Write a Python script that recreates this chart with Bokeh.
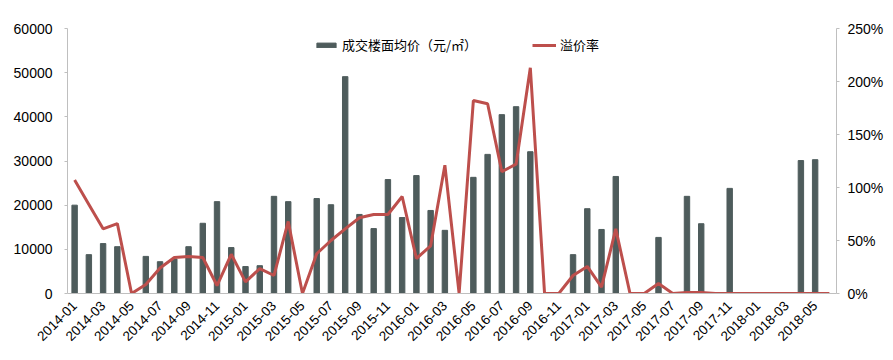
import math
from bokeh.plotting import figure
from bokeh.models import (ColumnDataSource, Range1d, LinearAxis, FixedTicker,
                          PrintfTickFormatter, Legend, LegendItem)
from bokeh.embed import file_html
from bokeh.resources import INLINE

months = [f"{y}-{m:02d}" for y in range(2014, 2019) for m in range(1, 13)][:54]

price = [20000, 8800, 11300, 10600, 0, 8400, 7200, 7800, 10600, 15900, 20800, 10400,
         6100, 6300, 22000, 20800, 0, 21500, 20100, 49100, 17900, 14700, 25800, 17200,
         26700, 18800, 14300, 0, 26300, 31500, 40500, 42300, 32100, 0, 0, 8800,
         19200, 14500, 26500, 0, 0, 12700, 0, 22000, 15800, 0, 23800, 0,
         0, 0, 0, 30100, 30300, 0]

premium = [107, 84, 61, 66, 0, 8.5, 24, 34, 35, 34, 7.5, 37,
           11, 23.5, 17, 68, 0, 37.5, 50, 61, 71.5, 74.5, 74.5, 91.5,
           33, 45, 121, 0, 182, 179, 115, 122, 213, 0, 0, 17,
           25.5, 6, 61, 0, 0, 9.5, 0, 1, 1, 0, 0, 0,
           0, 0, 0, 0, 0, 0]

idx = list(range(len(months)))
src = ColumnDataSource(dict(x=idx, price=price, premium=premium))

p = figure(width=893, height=360, output_backend="svg", toolbar_location=None,
           x_range=Range1d(-0.5, len(months) - 0.5), y_range=Range1d(0, 60000),
           min_border_left=67, min_border_right=57, min_border_top=28, min_border_bottom=67)
p.extra_y_ranges = {"pct": Range1d(0, 250)}

bar_color = "#4e5c5c"
line_color = "#bd4f4c"

r_bar = p.vbar(x="x", top="price", width=0.38, source=src, color=bar_color)
r_line = p.line(x="x", y="premium", source=src, y_range_name="pct",
                color=line_color, line_width=3)

axis_color = "#bfbfbf"
font = "Liberation Sans"

p.xaxis.ticker = FixedTicker(ticks=idx[::2])
p.xaxis.major_label_overrides = {i: months[i] for i in idx}
p.xaxis.major_label_orientation = math.pi / 4
p.xaxis.major_tick_line_color = None
p.xaxis.minor_tick_line_color = None
p.xaxis.axis_line_color = axis_color
p.xaxis.major_label_text_font = font
p.xaxis.major_label_text_font_size = "13.5px"
p.xaxis.major_label_text_color = "#000000"
p.xaxis.major_label_standoff = 4

p.yaxis.ticker = FixedTicker(ticks=[0, 10000, 20000, 30000, 40000, 50000, 60000])
p.yaxis.axis_line_color = axis_color
p.yaxis.major_tick_line_color = axis_color
p.yaxis.major_tick_out = 3
p.yaxis.major_tick_in = 0
p.yaxis.minor_tick_line_color = None
p.yaxis.major_label_text_font = font
p.yaxis.major_label_text_font_size = "14px"
p.yaxis.major_label_text_color = "#000000"
p.yaxis.major_label_standoff = 12

ax2 = LinearAxis(y_range_name="pct", ticker=FixedTicker(ticks=[0, 50, 100, 150, 200, 250]),
                 formatter=PrintfTickFormatter(format="%d%%"))
ax2.axis_line_color = axis_color
ax2.major_tick_line_color = axis_color
ax2.major_tick_out = 3
ax2.major_tick_in = 0
ax2.minor_tick_line_color = None
ax2.major_label_text_font = font
ax2.major_label_text_font_size = "14px"
ax2.major_label_text_color = "#000000"
ax2.major_label_standoff = 8
p.add_layout(ax2, "right")

p.xgrid.grid_line_color = None
p.ygrid.grid_line_color = None
p.outline_line_color = None

legend = Legend(items=[LegendItem(label="成交楼面均价（元/㎡）", renderers=[r_bar]),
                       LegendItem(label="溢价率", renderers=[r_line])],
                orientation="horizontal", location=(247, 239),
                glyph_width=24, glyph_height=6, spacing=55, label_standoff=4,
                padding=0, margin=0, border_line_color=None, background_fill_alpha=0,
                label_text_font="Noto Sans CJK SC", label_text_font_size="13px",
                label_text_color="#000000", label_height=16)
p.add_layout(legend, "center")

open("out.html", "w").write(file_html(p, INLINE))
